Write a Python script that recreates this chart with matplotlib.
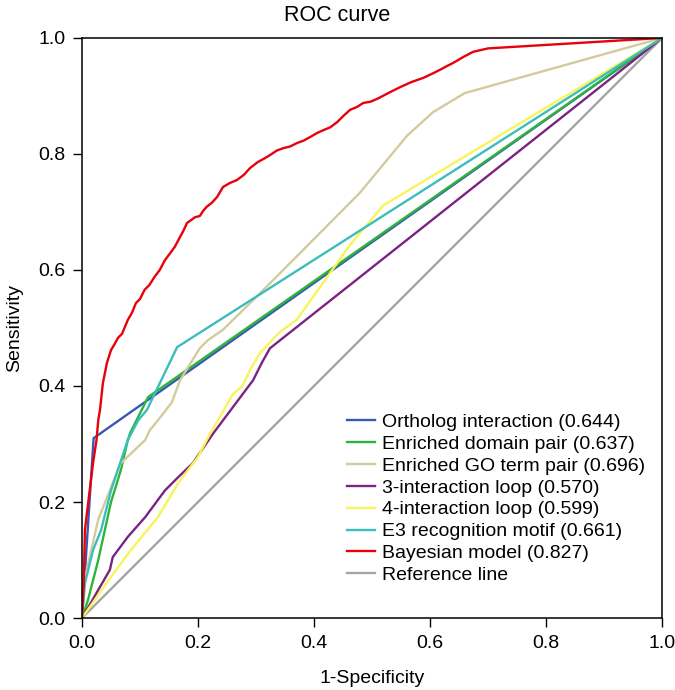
import matplotlib.pyplot as plt

plt.rcParams['font.family'] = ['Liberation Sans', 'DejaVu Sans']

# ROC curves (1-specificity, sensitivity)
ortholog_x = [0, 0.02, 1]
ortholog_y = [0, 0.31, 1]

domain_x = [0, 0.01, 0.028, 0.05, 0.067, 0.079, 0.083, 0.114, 1]
domain_y = [0, 0.03, 0.10, 0.20, 0.255, 0.307, 0.319, 0.381, 1]

go_x = [0, 0.003, 0.028, 0.057, 0.067, 0.109, 0.117, 0.131, 0.155, 0.169, 0.203,
        0.217, 0.243, 0.295, 0.33, 0.479, 0.56, 0.605, 0.66, 1]
go_y = [0, 0.06, 0.17, 0.243, 0.267, 0.307, 0.324, 0.341, 0.372, 0.41, 0.465,
        0.479, 0.497, 0.548, 0.583, 0.733, 0.831, 0.872, 0.905, 1]

loop3_x = [0, 0.048, 0.053, 0.079, 0.109, 0.143, 0.166, 0.191, 0.226, 0.295,
           0.31, 0.324, 1]
loop3_y = [0, 0.083, 0.105, 0.14, 0.174, 0.22, 0.243, 0.267, 0.318, 0.41,
           0.44, 0.465, 1]

loop4_x = [0, 0.05, 0.084, 0.131, 0.166, 0.2, 0.221, 0.261, 0.276, 0.29, 0.307,
           0.341, 0.37, 0.462, 0.519, 1]
loop4_y = [0, 0.071, 0.117, 0.174, 0.233, 0.278, 0.318, 0.387, 0.399, 0.428, 0.457,
           0.493, 0.514, 0.643, 0.711, 1]

e3_x = [0, 0.005, 0.019, 0.033, 0.05, 0.079, 0.097, 0.112, 0.164, 1]
e3_y = [0, 0.06, 0.117, 0.152, 0.22, 0.307, 0.341, 0.359, 0.467, 1]

bayes_x = [0, 0.003, 0.005, 0.012, 0.019, 0.025, 0.028, 0.031, 0.036, 0.043, 0.05,
           0.056, 0.062, 0.069, 0.079, 0.086, 0.093, 0.1, 0.108, 0.116, 0.125, 0.134,
           0.143, 0.152, 0.16, 0.169, 0.175, 0.181, 0.188, 0.195, 0.203, 0.209, 0.215,
           0.224, 0.233, 0.243, 0.255, 0.267, 0.279, 0.29, 0.303, 0.314, 0.324, 0.336,
           0.347, 0.359, 0.371, 0.382, 0.393, 0.405, 0.416, 0.428, 0.44, 0.451, 0.462,
           0.474, 0.485, 0.497, 0.509, 0.528, 0.548, 0.568, 0.588, 0.603, 0.617, 0.63,
           0.64, 0.657, 0.674, 0.7, 1]
bayes_y = [0, 0.06, 0.152, 0.21, 0.267, 0.307, 0.341, 0.359, 0.405, 0.44, 0.462,
           0.472, 0.483, 0.49, 0.514, 0.526, 0.543, 0.55, 0.566, 0.574, 0.588, 0.6,
           0.617, 0.629, 0.64, 0.657, 0.668, 0.681, 0.686, 0.691, 0.693, 0.702, 0.709,
           0.716, 0.726, 0.743, 0.75, 0.755, 0.764, 0.776, 0.786, 0.792, 0.798, 0.806,
           0.81, 0.813, 0.819, 0.823, 0.829, 0.836, 0.841, 0.846, 0.855, 0.866, 0.876,
           0.881, 0.888, 0.89, 0.895, 0.905, 0.915, 0.924, 0.931, 0.938, 0.945, 0.952,
           0.957, 0.967, 0.976, 0.982, 1]

ref_x = [0, 1]
ref_y = [0, 1]

labels = ["Ortholog interaction (0.644)", "Enriched domain pair (0.637)",
          "Enriched GO term pair (0.696)", "3-interaction loop (0.570)",
          "4-interaction loop (0.599)", "E3 recognition motif (0.661)",
          "Bayesian model (0.827)", "Reference line"]
colors = ["#3A57B5", "#2DB53B", "#D4CB9C", "#7A2482", "#F8F45A", "#3CBDBD",
          "#E8000B", "#A5A5A5"]

curves = [(ortholog_x, ortholog_y), (domain_x, domain_y), (go_x, go_y),
          (loop3_x, loop3_y), (loop4_x, loop4_y), (e3_x, e3_y),
          (bayes_x, bayes_y), (ref_x, ref_y)]

fig = plt.figure(figsize=(6.75, 6.9), dpi=100)
ax = fig.add_axes([0.1215, 0.1043, 0.8593, 0.8407])

# reference line first so it sits underneath
ref_line, = ax.plot(ref_x, ref_y, color=colors[7], lw=1.7, zorder=1, label=labels[7])
handles = []
for (x, y), c, lab in zip(curves[:7], colors[:7], labels[:7]):
    h, = ax.plot(x, y, color=c, lw=1.7, label=lab, zorder=2)
    handles.append(h)
handles.append(ref_line)

ax.set_xlim(0, 1)
ax.set_ylim(0, 1)
ticks = [0.0, 0.2, 0.4, 0.6, 0.8, 1.0]
ax.set_xticks(ticks)
ax.set_yticks(ticks)
ax.set_xticklabels([f"{t:.1f}" for t in ticks])
ax.set_yticklabels([f"{t:.1f}" for t in ticks])
ax.tick_params(direction='out', length=6.5, width=1, labelsize=14, pad=5.5)
for s in ax.spines.values():
    s.set_linewidth(1.1)

# title sits centred on the figure, not the axes
ax.set_title("ROC curve", fontsize=15.5, x=0.4405, pad=12)
ax.set_xlabel("1-Specificity", fontsize=14, labelpad=13)
ax.set_ylabel("Sensitivity", fontsize=14, labelpad=11)

ax.legend(handles=handles, loc='lower right', bbox_to_anchor=(0.985, 0.045),
          frameon=False, fontsize=14, handlelength=1.45, handletextpad=0.36,
          labelspacing=0.22, borderaxespad=0)

fig.savefig("out.png", dpi=100)
